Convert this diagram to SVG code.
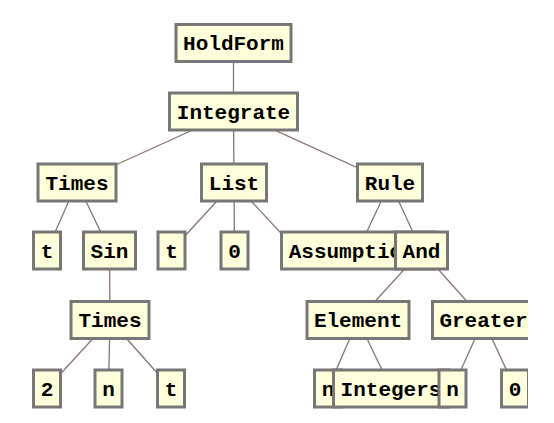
<svg xmlns="http://www.w3.org/2000/svg" width="554" height="423" viewBox="0 0 554 423">
<style>
.n rect{fill:#ffffdb;stroke:#777;stroke-width:3}
.n text{font-family:"Liberation Mono","DejaVu Sans Mono",monospace;font-size:21px;font-weight:bold;fill:#000;text-anchor:middle}
#edges line{stroke:#8c7373;stroke-width:1.3}
</style>
<defs>
<clipPath id="c"><rect x="0" y="0" width="528" height="423"/></clipPath>
<clipPath id="ca"><rect x="280" y="230" width="114" height="42"/></clipPath>
</defs>
<rect width="554" height="423" fill="#fff"/>
<g clip-path="url(#c)">
<g id="edges">
<line x1="233.5" y1="43" x2="233.5" y2="111.5"/>
<line x1="233.5" y1="111.5" x2="77" y2="182.5"/>
<line x1="233.5" y1="111.5" x2="234" y2="182.5"/>
<line x1="233.5" y1="111.5" x2="390" y2="182.5"/>
<line x1="77" y1="182.5" x2="47" y2="250.5"/>
<line x1="77" y1="182.5" x2="109.5" y2="250.5"/>
<line x1="234" y1="182.5" x2="171.5" y2="250.5"/>
<line x1="234" y1="182.5" x2="234.5" y2="250.5"/>
<line x1="234" y1="182.5" x2="297" y2="250.5"/>
<line x1="390" y1="182.5" x2="358" y2="250.5"/>
<line x1="390" y1="182.5" x2="421.5" y2="250.5"/>
<line x1="109.5" y1="250.5" x2="110" y2="320"/>
<line x1="421.5" y1="250.5" x2="358" y2="320"/>
<line x1="421.5" y1="250.5" x2="483.5" y2="320"/>
<line x1="110" y1="320" x2="47" y2="388.5"/>
<line x1="110" y1="320" x2="108.5" y2="388.5"/>
<line x1="110" y1="320" x2="171" y2="388.5"/>
<line x1="358" y1="320" x2="328" y2="388.5"/>
<line x1="358" y1="320" x2="391" y2="388.5"/>
<line x1="483.5" y1="320" x2="452.5" y2="388.5"/>
<line x1="483.5" y1="320" x2="515" y2="388.5"/>
</g>
<g id="holdform" class="n"><rect x="176" y="24.5" width="115" height="37"/><text x="233.5" y="50">HoldForm</text></g>
<g id="integrate" class="n"><rect x="169.5" y="93" width="128" height="37"/><text x="233.5" y="118.5">Integrate</text></g>
<g id="times1" class="n"><rect x="38" y="164" width="78" height="37"/><text x="77" y="189.5">Times</text></g>
<g id="list" class="n"><rect x="201.5" y="164" width="65" height="37"/><text x="234" y="189.5">List</text></g>
<g id="rule" class="n"><rect x="357.5" y="164" width="65" height="37"/><text x="390" y="189.5">Rule</text></g>
<g id="t1" class="n"><rect x="33.5" y="232" width="27" height="37"/><text x="47" y="257.5">t</text></g>
<g id="sin" class="n"><rect x="83.5" y="232" width="52" height="37"/><text x="109.5" y="257.5">Sin</text></g>
<g id="t2" class="n"><rect x="158" y="232" width="27" height="37"/><text x="171.5" y="257.5">t</text></g>
<g id="zero1" class="n"><rect x="221" y="232" width="27" height="37"/><text x="234.5" y="257.5">0</text></g>
<g id="assumptions" class="n"><rect x="281.5" y="232" width="153" height="37"/><text x="358" y="257.5" clip-path="url(#ca)">Assumptions</text></g>
<g id="and" class="n"><rect x="395.5" y="232" width="52" height="37"/><text x="421.5" y="257.5">And</text></g>
<g id="times2" class="n"><rect x="71" y="301.5" width="78" height="37"/><text x="110" y="327">Times</text></g>
<g id="element" class="n"><rect x="307" y="301.5" width="102" height="37"/><text x="358" y="327">Element</text></g>
<g id="greater" class="n"><rect x="432.5" y="301.5" width="102" height="37"/><text x="483.5" y="327">Greater</text></g>
<g id="two" class="n"><rect x="33.5" y="370" width="27" height="37"/><text x="47" y="395.5">2</text></g>
<g id="n1" class="n"><rect x="95" y="370" width="27" height="37"/><text x="108.5" y="395.5">n</text></g>
<g id="t3" class="n"><rect x="157.5" y="370" width="27" height="37"/><text x="171" y="395.5">t</text></g>
<g id="n2" class="n"><rect x="314.5" y="370" width="27" height="37"/><text x="328" y="395.5">n</text></g>
<g id="integers" class="n"><rect x="333.5" y="370" width="115" height="37"/><text x="391" y="395.5">Integers</text></g>
<g id="n3" class="n"><rect x="439" y="370" width="27" height="37"/><text x="452.5" y="395.5">n</text></g>
<g id="zero2" class="n"><rect x="501.5" y="370" width="27" height="37"/><text x="515" y="395.5">0</text></g>
</g>
</svg>
